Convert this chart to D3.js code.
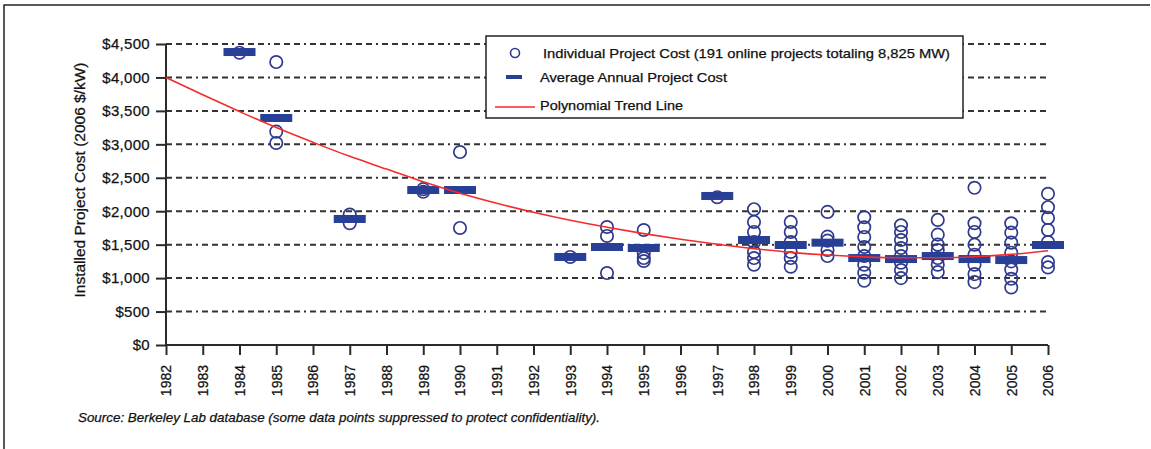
<!DOCTYPE html>
<html><head><meta charset="utf-8">
<script src="https://cdn.jsdelivr.net/npm/d3@7"></script>
<style>
html,body{margin:0;padding:0;background:#fff;}
svg{display:block;}
text{font-family:"Liberation Sans",Arial,sans-serif;fill:#111;stroke:#111;stroke-width:0.25px;}
</style></head>
<body>
<svg id="chart" width="1151" height="449"></svg>
<script>
// ---------- data ----------
const categories = ["1982","1983","1984","1985","1986","1987","1988","1989","1990","1991","1992","1993","1994","1995","1996","1997","1998","1999","2000","2001","2002","2003","2004","2005","2006"];
const yTicks = [0,500,1000,1500,2000,2500,3000,3500,4000,4500];
const projectYears = ["1984","1985","1987","1989","1990","1993","1994","1995","1997","1998","1999","2000","2001","2002","2003","2004","2005","2006"];
const projectCosts = [
  [4370],
  [4230,3190,3020],
  [1950,1820],
  [2290,2330],
  [2885,1750],
  [1316],
  [1764,1630,1076],
  [1719,1375,1300,1256],
  [2210],
  [2030,1840,1690,1540,1390,1300,1200],
  [1840,1690,1540,1390,1300,1170],
  [1990,1620,1560,1420,1330],
  [1910,1760,1615,1465,1330,1200,1080,960],
  [1790,1690,1570,1450,1330,1230,1120,1000],
  [1870,1650,1500,1420,1300,1200,1090],
  [2350,1820,1690,1500,1350,1200,1060,940],
  [1820,1680,1530,1380,1250,1130,990,860],
  [2260,2060,1900,1720,1540,1240,1160]
];
const avgCost = [4380,3394,1884,2317,2317,1316,1465,1450,2228,1570,1495,1530,1300,1285,1330,1285,1270,1495];
const trendLine = [4000,3740,3490,3250,3030,2820,2630,2440,2270,2120,1985,1865,1760,1665,1580,1505,1440,1385,1345,1318,1305,1305,1320,1355,1410];
const legendLabels = ["Individual Project Cost (191 online projects totaling 8,825 MW)","Average Annual Project Cost","Polynomial Trend Line"];
const yTitle = "Installed Project Cost (2006 $/kW)";
const sourceText = "Source: Berkeley Lab database (some data points suppressed to protect confidentiality).";

// ---------- drawing ----------
const svg = d3.select("#chart");
const circleColor = "#2f3a8c", barColor = "#283f96", trendColor = "#f52a2a", inkColor = "#2a2a2a";

const x = d3.scalePoint().domain(categories).range([166,1048]);
const y = d3.scaleLinear().domain([0,4500]).range([345,44]);

// frame
svg.append("path").attr("d","M4,449 L4,5 L1150,5").attr("fill","none").attr("stroke","#222").attr("stroke-width",1.5);

// gridlines
svg.append("g").selectAll("line").data(yTicks.filter(d=>d>0)).join("line")
  .attr("x1",166).attr("x2",1046)
  .attr("y1",d=>y(d)).attr("y2",d=>y(d))
  .attr("stroke","#333").attr("stroke-width",2)
  .attr("stroke-dasharray","6,4,6,4,6,4,2,4");

// y axis
const yAxis = d3.axisLeft(y).tickValues(yTicks).tickSize(10).tickPadding(6)
  .tickFormat(d=>"$"+d3.format(",")(d));
const yg = svg.append("g").attr("transform","translate(166,0)").call(yAxis);
yg.select(".domain").attr("stroke",inkColor).attr("stroke-width",2).attr("d","M0,"+y(4500)+"V"+y(0));
yg.selectAll(".tick line").attr("stroke",inkColor).attr("stroke-width",2);
yg.selectAll(".tick text").attr("font-size",15).attr("letter-spacing",0.3).attr("fill","#111")
  .attr("font-family","'Liberation Sans',Arial,sans-serif");

// x axis
const xAxis = d3.axisBottom(x).tickSize(10).tickPadding(4);
const xg = svg.append("g").attr("transform","translate(0,345)").call(xAxis);
xg.select(".domain").attr("stroke",inkColor).attr("stroke-width",2).attr("d","M166,0H1048");
xg.selectAll(".tick line").attr("stroke",inkColor).attr("stroke-width",2);
xg.selectAll(".tick text").attr("font-size",14).attr("fill","#111")
  .attr("font-family","'Liberation Sans',Arial,sans-serif")
  .attr("transform","rotate(-90)").attr("text-anchor","end")
  .attr("x",-20).attr("y",0).attr("dy","0.35em");

// y title
svg.append("text").attr("transform","translate(85,180) rotate(-90)")
  .attr("text-anchor","middle").attr("font-size",14).attr("textLength",235).attr("lengthAdjust","spacingAndGlyphs")
  .text(yTitle);

// circles
const pts = [];
projectYears.forEach((yr,i)=>projectCosts[i].forEach(v=>pts.push({yr,v})));
svg.append("g").selectAll("circle").data(pts).join("circle")
  .attr("cx",d=>x(d.yr)).attr("cy",d=>y(d.v)).attr("r",6.2)
  .attr("fill","none").attr("stroke",circleColor).attr("stroke-width",1.7);

// average bars
svg.append("g").selectAll("rect").data(projectYears.map((yr,i)=>({yr,v:avgCost[i]}))).join("rect")
  .attr("x",d=>x(d.yr)-16).attr("y",d=>y(d.v)-4).attr("width",32).attr("height",8)
  .attr("fill",barColor);

// trend line
svg.append("path").datum(categories.map((c,i)=>({c,v:trendLine[i]})))
  .attr("d",d3.line().x(d=>x(d.c)).y(d=>y(d.v)).curve(d3.curveMonotoneX))
  .attr("fill","none").attr("stroke",trendColor).attr("stroke-width",1.6);

// legend
const lg = svg.append("g");
lg.append("rect").attr("x",486).attr("y",36).attr("width",477).attr("height",82)
  .attr("fill","#fff").attr("stroke","#222").attr("stroke-width",1.5);
lg.append("circle").attr("cx",515).attr("cy",53).attr("r",4.5).attr("fill","none").attr("stroke",circleColor).attr("stroke-width",1.6);
lg.append("rect").attr("x",506).attr("y",75).attr("width",16).attr("height",4).attr("fill",barColor);
lg.append("line").attr("x1",495).attr("x2",535).attr("y1",107).attr("y2",107).attr("stroke",trendColor).attr("stroke-width",1.5);
const lx = [543,540,540], ly = [53,77,105], lw = [407,187,143];
legendLabels.forEach((t,i)=>{
  lg.append("text").attr("x",lx[i]).attr("y",ly[i]).attr("dy","0.35em")
    .attr("font-size",13).attr("textLength",lw[i]).attr("lengthAdjust","spacingAndGlyphs").text(t);
});

// source
svg.append("text").attr("x",78).attr("y",422).attr("font-size",13).attr("font-style","italic")
  .attr("textLength",522).attr("lengthAdjust","spacingAndGlyphs").text(sourceText);
</script>
</body></html>
